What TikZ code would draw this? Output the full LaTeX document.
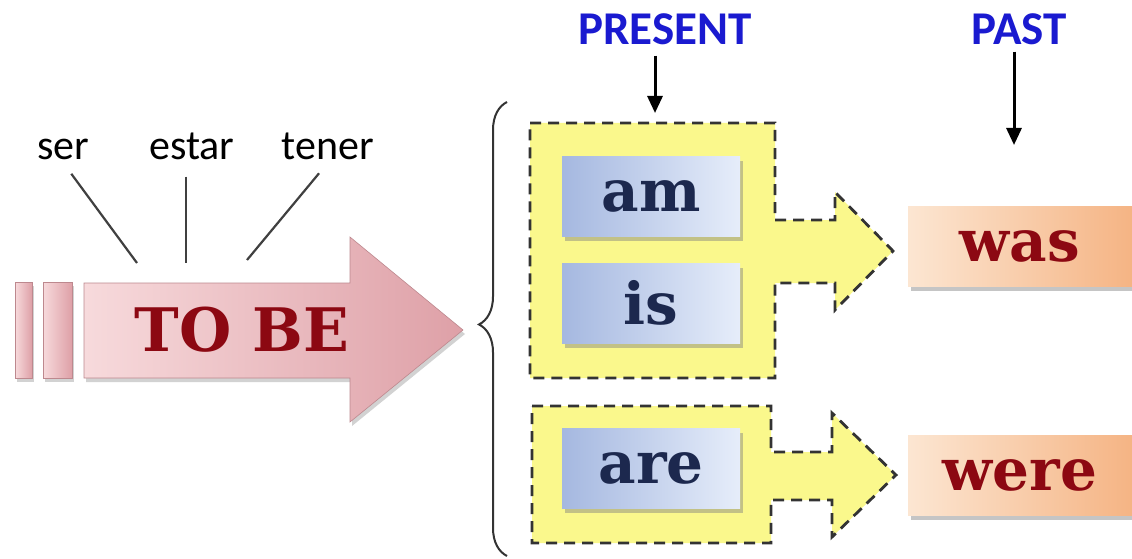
\documentclass[tikz,border=0pt]{standalone}
\usepackage{fontspec}
\newfontfamily\calfont{Carlito}
\newfontfamily\slabfont{DejaVu Serif}
\usetikzlibrary{arrows.meta,shadows,decorations.pathreplacing}

\definecolor{tobepink}{RGB}{247,218,220}
\definecolor{tobedeep}{RGB}{222,160,167}
\definecolor{tobered}{RGB}{140,8,18}
\definecolor{verbblue}{RGB}{165,184,224}
\definecolor{verblight}{RGB}{230,237,250}
\definecolor{verbink}{RGB}{28,40,78}
\definecolor{pastpeach}{RGB}{252,230,210}
\definecolor{pastorange}{RGB}{245,180,132}
\definecolor{grpyellow}{RGB}{250,248,140}
\definecolor{headblue}{RGB}{26,26,208}

\begin{document}
\begin{tikzpicture}[x=1pt,y=-1pt,
    >={Triangle[width=15pt,length=17pt]},
    tobe/.style = {
      left color = tobepink,
      right color = tobedeep,
      draw = tobedeep!85!black,
      line width = 0.6pt,
      drop shadow = {shadow xshift=2pt, shadow yshift=-4pt, opacity=0.35}
    },
    gloss/.style = {font=\calfont\fontsize{42}{42}\selectfont, inner sep=2pt, anchor=base},
    tense/.style = {font=\calfont\bfseries\fontsize{47}{47}\selectfont, text=headblue, inner sep=2pt, anchor=base},
    verb/.style = {
      minimum width = 178pt,
      minimum height = 80pt,
      left color = verbblue,
      right color = verblight,
      text = verbink,
      font = \slabfont\bfseries\fontsize{58}{58}\selectfont,
      drop shadow = {shadow xshift=3pt, shadow yshift=-5pt, opacity=0.45}
    },
    pastverb/.style = {verb, minimum width=224pt, left color=pastpeach, right color=pastorange, text=tobered},
    group/.style = {fill=grpyellow, draw=black!80, dash pattern=on 11pt off 7pt, line width=2.8pt}
  ]
  \useasboundingbox[fill=white] (0,0) rectangle (1132,559);

  % the big pink arrow
  \path[tobe] (15,282) rectangle (32,378);
  \path[tobe] (43,282) rectangle (72,378);
  \path[tobe] (84,283) -- (350,283) -- (350,237) -- (463,330) -- (350,422) -- (350,378) -- (84,378) -- cycle;
  \node[font=\slabfont\bfseries\fontsize{60}{60}\selectfont, text=tobered] (tobe) at (242,330) {TO BE};

  \node[gloss] (ser)   at (63,160)  {ser};
  \node[gloss] (estar) at (192,160) {estar};
  \node[gloss] (tener) at (328,160) {tener};
  \coordinate (ser-end)   at (137,263);
  \coordinate (estar-end) at (186,263);
  \coordinate (tener-end) at (247,260);
  \draw[black!75, line width=2.2pt, shorten <=14pt] (ser.south) -- (ser-end);
  \draw[black!75, line width=2.2pt, shorten <=14pt] (estar.south -| estar-end) -- (estar-end);
  \draw[black!75, line width=2.2pt, shorten <=14pt] (tener.south) -- (tener-end);

  \draw[decorate, decoration={brace, amplitude=28pt, aspect=0.51}, line width=2pt, black!80]
    (507,556) -- (507,102);

  % present forms and their arrows
  \path[group] (530,123) -- (775,123) -- (775,220) -- (835,220) -- (835,192) -- (893,251)
    -- (835,310) -- (835,283) -- (775,283) -- (775,378) -- (530,378) -- cycle;
  \path[group] (532,406) -- (771,406) -- (771,452) -- (832,452) -- (832,413) -- (896,475)
    -- (832,537) -- (832,500) -- (771,500) -- (771,543) -- (532,543) -- cycle;

  \node[verb] (am)  at (651,196) {am};
  \node[verb] (is)  at (651,303) {is};
  \node[verb] (are) at (651,468) {are};

  \node[pastverb] (was)  at (1020,246) {was};
  \node[pastverb] (were) at (1020,475) {were};

  \node[tense] (present) at (665,45)  {PRESENT};
  \node[tense] (past)    at (1019,45) {PAST};
  \coordinate (present-end) at (655,113);
  \coordinate (past-end)    at (1014,145);
  \draw[->, line width=3pt, shorten <=8pt] (present.south -| present-end) -- (present-end);
  \draw[->, line width=3pt, shorten <=4pt] (past.south -| past-end) -- (past-end);
\end{tikzpicture}
\end{document}
